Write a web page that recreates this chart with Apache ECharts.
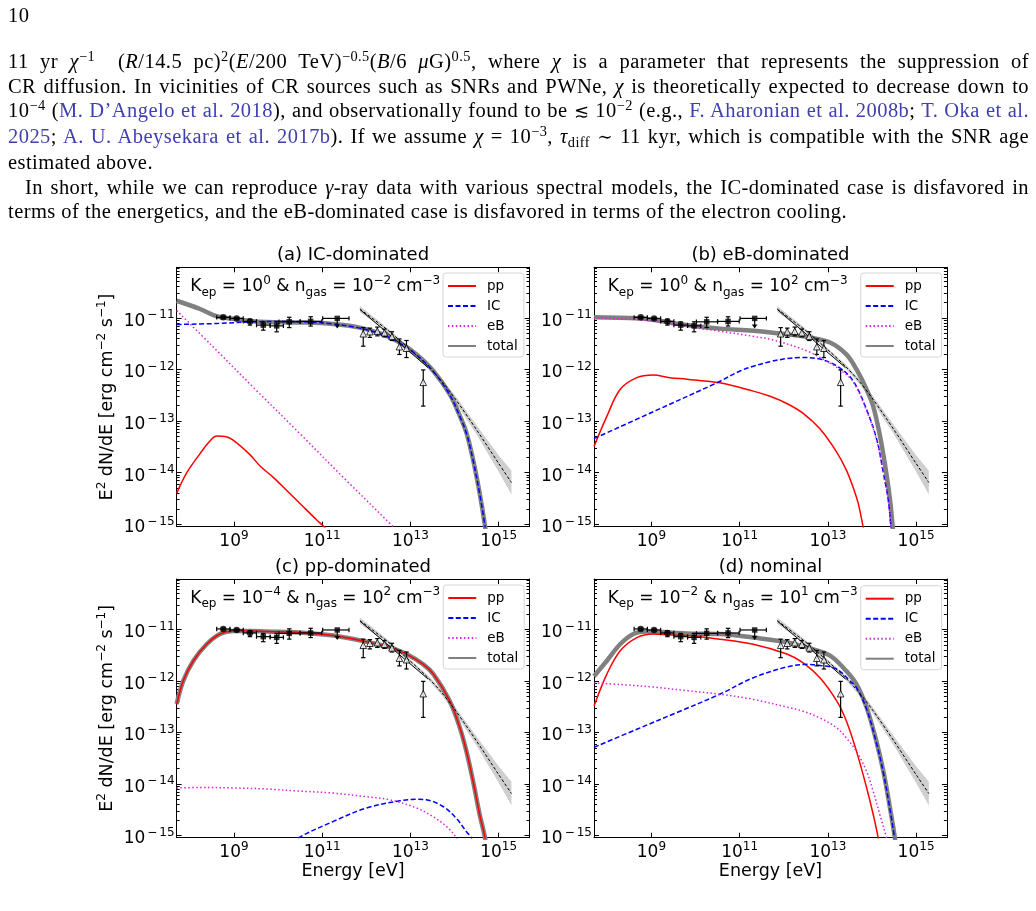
<!DOCTYPE html>
<html>
<head>
<meta charset="utf-8">
<title>SED panels</title>
<script src="https://cdn.jsdelivr.net/npm/echarts@6.0.0/dist/echarts.min.js"></script>
<style>
  body { margin: 0; background: #fff; }
  #chart { position: absolute; left: 0; top: 0; width: 1036px; height: 911px; }
  .page { position: absolute; left: 8px; font-family: 'Liberation Serif', 'DejaVu Serif', serif;
          font-size: 20.5px; letter-spacing: 0.45px; line-height: 24.7px; color: #000; z-index: 2; }
  #pn { top: 3px; }
  #text { top: 49px; width: 1021px; }
  #text div { white-space: nowrap; }
  .j { text-align: justify; text-align-last: justify; }
  .ind { text-indent: 17px; }
  sup, sub { font-size: 0.7em; line-height: 0; }
  sup { vertical-align: 0.5em; }
  sub { vertical-align: -0.25em; }
  .ref { color: #3f3fae; }
  .sym { font-family: 'DejaVu Serif', serif; font-size: 0.9em; }
</style>
</head>
<body>
<div id="pn" class="page">10</div>
<div id="text" class="page">
  <div class="j">11 yr <i>χ</i><sup>−1</sup>&nbsp; (<i>R</i>/14.5 pc)<sup>2</sup>(<i>E</i>/200 TeV)<sup>−0.5</sup>(<i>B</i>/6 <i>μ</i>G)<sup>0.5</sup>, where <i>χ</i> is a parameter that represents the suppression of</div>
  <div class="j">CR diffusion. In vicinities of CR sources such as SNRs and PWNe, <i>χ</i> is theoretically expected to decrease down to</div>
  <div class="j">10<sup>−4</sup> (<span class="ref">M. D’Angelo et al. 2018</span>), and observationally found to be <span class="sym">≲</span> 10<sup>−2</sup> (e.g., <span class="ref">F. Aharonian et al. 2008b</span>; <span class="ref">T. Oka et al.</span></div>
  <div class="j"><span class="ref">2025</span>; <span class="ref">A. U. Abeysekara et al. 2017b</span>). If we assume <i>χ</i> = 10<sup>−3</sup>, <i>τ</i><sub>diff</sub> <span class="sym">∼</span> 11 kyr, which is compatible with the SNR age</div>
  <div>estimated above.</div>
  <div class="j ind">In short, while we can reproduce <i>γ</i>-ray data with various spectral models, the IC-dominated case is disfavored in</div>
  <div>terms of the energetics, and the eB-dominated case is disfavored in terms of the electron cooling.</div>
</div>
<div id="chart"></div>
<script>
// all curve values are log10(E [eV]), log10(E^2 dN/dE [erg cm^-2 s^-1])
const p10 = v => Math.pow(10, v)
const toXY = arr => arr.map(([e, f]) => [p10(e), p10(f)])

const xMin = 5e7, xMax = 5e15
const yMin = 9e-16, yMax = 9.5e-11
const xTickVals = [1e9, 1e11, 1e13, 1e15]
const yTickVals = [1e-15, 1e-14, 1e-13, 1e-12, 1e-11]
const yMinorSubs = [2, 3, 4, 5, 6, 7, 8, 9]
const yMinorDecades = [-16, -15, -14, -13, -12, -11]

const panelTitles = ['(a) IC-dominated', '(b) eB-dominated', '(c) pp-dominated', '(d) nominal']
const panelKep = ['0', '0', '−4', '−2']
const panelNgas = ['−2', '2', '2', '1']
const legendNames = ['pp', 'IC', 'eB', 'total']

// (a) IC-dominated
const aPP = [[7.70,-14.40],[7.93,-14.0],[8.23,-13.63],[8.46,-13.38],[8.61,-13.29],[8.80,-13.30],[8.98,-13.37],[9.36,-13.65],[9.59,-13.87],[9.89,-14.09],[10.19,-14.34],[10.49,-14.59],[10.87,-14.91],[11.02,-15.03],[11.2,-15.2]]
const aIC = [[7.70,-11.13],[8.61,-11.11],[9.36,-11.08],[10.12,-11.07],[10.87,-11.09],[11.25,-11.12],[11.85,-11.2],[12.38,-11.33],[12.76,-11.49],[13.14,-11.72],[13.52,-12.04],[13.89,-12.49],[14.12,-12.91],[14.27,-13.24],[14.42,-13.76],[14.57,-14.41],[14.69,-15.04],[14.76,-15.5]]
const aEB = [[7.70,-10.86],[8.5,-11.54],[9.5,-12.40],[10.5,-13.25],[11.5,-14.11],[12.61,-15.05],[13.0,-15.4]]
const aTotal = [[7.70,-10.67],[8.23,-10.83],[8.61,-10.97],[8.98,-11.02],[9.36,-11.06],[9.74,-11.08],[10.49,-11.09],[11.25,-11.12],[11.85,-11.19],[12.38,-11.32],[12.76,-11.48],[13.14,-11.71],[13.52,-12.03],[13.89,-12.48],[14.12,-12.9],[14.27,-13.23],[14.42,-13.75],[14.57,-14.40],[14.69,-15.03],[14.76,-15.5]]

// (b) eB-dominated
const bPP = [[7.70,-13.49],[7.99,-12.91],[8.29,-12.39],[8.67,-12.16],[9.04,-12.11],[9.42,-12.16],[9.80,-12.19],[10.55,-12.26],[11.31,-12.42],[11.69,-12.52],[12.07,-12.66],[12.44,-12.85],[12.82,-13.15],[13.20,-13.6],[13.42,-13.95],[13.58,-14.3],[13.69,-14.6],[13.80,-15.05],[13.9,-15.5]]
const bIC = [[7.70,-13.34],[9.04,-12.82],[10.48,-12.26],[11.01,-12.03],[11.31,-11.94],[11.69,-11.85],[12.07,-11.79],[12.37,-11.77],[12.82,-11.80],[13.27,-11.97],[13.58,-12.23],[13.88,-12.78],[14.11,-13.36],[14.26,-14.01],[14.37,-14.53],[14.43,-15.05],[14.48,-15.5]]
const bEB = [[7.70,-11.0],[9.04,-11.06],[9.80,-11.17],[10.55,-11.26],[11.31,-11.36],[11.76,-11.43],[12.52,-11.64],[12.97,-11.84],[13.27,-12.0],[13.58,-12.25],[13.88,-12.8],[14.11,-13.38],[14.26,-14.03],[14.37,-14.55],[14.43,-15.05],[14.48,-15.5]]
const bTotal = [[7.70,-10.99],[8.67,-11.01],[9.04,-11.04],[9.42,-11.09],[9.80,-11.14],[10.55,-11.21],[11.31,-11.25],[12.07,-11.32],[12.59,-11.38],[13.05,-11.48],[13.42,-11.71],[13.65,-12.0],[13.88,-12.39],[14.03,-12.72],[14.18,-13.28],[14.33,-14.03],[14.42,-14.6],[14.47,-15.05],[14.52,-15.5]]

// (c) pp-dominated
const cPP = [[7.70,-12.46],[7.85,-12.0],[8.08,-11.61],[8.38,-11.29],[8.68,-11.09],[8.98,-11.03],[9.36,-11.03],[9.74,-11.04],[10.49,-11.06],[11.25,-11.12],[12.0,-11.24],[12.53,-11.35],[12.91,-11.48],[13.29,-11.68],[13.52,-11.87],[13.89,-12.39],[14.12,-12.91],[14.27,-13.37],[14.42,-13.95],[14.57,-14.60],[14.69,-15.05],[14.75,-15.5]]
const cIC = [[10.2,-15.25],[10.46,-15.05],[11.25,-14.73],[12.0,-14.47],[12.76,-14.33],[13.14,-14.30],[13.36,-14.31],[13.74,-14.44],[14.04,-14.67],[14.27,-14.93],[14.38,-15.05],[14.45,-15.3]]
const cEB = [[7.70,-14.08],[8.23,-14.07],[8.98,-14.08],[9.74,-14.10],[10.49,-14.14],[11.25,-14.18],[12.0,-14.25],[12.53,-14.31],[13.14,-14.47],[13.52,-14.64],[13.82,-14.83],[14.04,-15.05],[14.2,-15.4]]
const cTotal = [[7.70,-12.45],[7.85,-12.0],[8.08,-11.61],[8.38,-11.29],[8.68,-11.09],[8.98,-11.03],[9.36,-11.03],[9.74,-11.04],[10.49,-11.06],[11.25,-11.12],[12.0,-11.24],[12.53,-11.35],[12.91,-11.48],[13.29,-11.68],[13.52,-11.87],[13.89,-12.39],[14.12,-12.91],[14.27,-13.37],[14.42,-13.95],[14.57,-14.60],[14.69,-15.05],[14.75,-15.5]]

// (d) nominal
const dPP = [[7.70,-12.49],[7.99,-11.87],[8.29,-11.42],[8.67,-11.16],[9.04,-11.09],[9.42,-11.11],[9.80,-11.12],[10.55,-11.19],[11.31,-11.29],[12.07,-11.48],[12.44,-11.65],[12.82,-11.94],[13.20,-12.39],[13.42,-12.78],[13.65,-13.37],[13.88,-14.08],[14.03,-14.60],[14.14,-15.05],[14.22,-15.5]]
const dIC = [[7.70,-13.29],[8.67,-12.94],[9.62,-12.60],[10.55,-12.26],[11.31,-11.94],[12.07,-11.73],[12.52,-11.68],[12.82,-11.70],[13.20,-11.77],[13.50,-12.0],[13.65,-12.13],[13.88,-12.55],[14.10,-13.2],[14.26,-13.79],[14.41,-14.5],[14.51,-15.05],[14.57,-15.5]]
const dEB = [[7.70,-12.04],[8.29,-12.07],[9.04,-12.12],[9.80,-12.19],[10.55,-12.26],[11.31,-12.36],[12.07,-12.51],[12.44,-12.59],[12.82,-12.72],[13.20,-12.91],[13.42,-13.11],[13.65,-13.37],[13.88,-13.76],[14.03,-14.15],[14.18,-14.60],[14.33,-15.05],[14.45,-15.5]]
const dTotal = [[7.70,-11.91],[7.99,-11.61],[8.29,-11.29],[8.59,-11.09],[8.89,-11.04],[9.42,-11.06],[9.80,-11.08],[10.55,-11.09],[11.31,-11.16],[12.07,-11.25],[12.59,-11.37],[13.05,-11.51],[13.42,-11.81],[13.65,-12.07],[13.88,-12.52],[14.10,-13.17],[14.26,-13.76],[14.41,-14.47],[14.52,-15.05],[14.58,-15.5]]

// observed points (same in every panel)
const fermiLogE = [8.757, 9.061, 9.363, 9.664, 9.968, 10.253, 10.738]
const fermiLogF = [-10.992, -11.012, -11.07, -11.142, -11.156, -11.078, -11.07]
const fermiLogElo = [8.608, 8.91, 9.21, 9.51, 9.82, 10.02, 10.5]
const fermiLogEhi = [8.909, 9.21, 9.51, 9.82, 10.12, 10.5, 10.99]
const fermiLogFlo = [-11.01, -11.03, -11.142, -11.24, -11.272, -11.19, -11.16]
const fermiLogFhi = [-10.975, -10.995, -11.025, -11.078, -11.078, -10.99, -10.98]
const fermiShape = ['circle', 'circle', 'circle', 'rect', 'rect', 'rect', 'rect']

const ulLogE = [11.341], ulLogF = [-11.012], ulLogElo = [11.01], ulLogEhi = [11.607], ulLogTip = [-11.206]

const triLogE = [11.93, 12.08, 12.25, 12.41, 12.58, 12.75, 12.91, 13.29]
const triLogF = [-11.31, -11.27, -11.26, -11.29, -11.36, -11.56, -11.59, -12.25]
const triLogFlo = [-11.55, -11.38, -11.35, -11.37, -11.44, -11.71, -11.77, -12.71]
const triLogFhi = [-11.19, -11.2, -11.18, -11.22, -11.27, -11.41, -11.44, -12.01]

// power-law fits and their band
const fitSolid = [[11.855,-10.84],[13.40,-11.965]]
const fitDashed = [[11.855,-10.83],[12.5,-11.25],[13.0,-11.62],[13.4,-11.94],[13.7,-12.22],[14.0,-12.55],[14.5,-13.17],[15.0,-13.82],[15.29,-14.19]]
const bandLogE = [11.855, 12.5, 13.0, 13.4, 13.7, 14.0, 14.5, 15.0, 15.29]
const bandLogHi = [-10.77, -11.21, -11.59, -11.9, -12.17, -12.49, -13.08, -13.66, -13.96]
const bandLogLo = [-10.89, -11.29, -11.65, -11.98, -12.27, -12.61, -13.26, -13.98, -14.42]

const models = [
  [aPP, aIC, aEB, aTotal],
  [bPP, bIC, bEB, bTotal],
  [cPP, cIC, cEB, cTotal],
  [dPP, dIC, dEB, dTotal]
]

const grids = [
  { left: 176.6, top: 267.3, width: 352.9, height: 259.4 },
  { left: 594, top: 267.3, width: 352.9, height: 259.4 },
  { left: 176.6, top: 579, width: 352.9, height: 258.7 },
  { left: 594, top: 579, width: 352.9, height: 258.7 }
]
const legendPos = [[443, 273], [860.7, 273], [443.3, 585], [860.7, 585.7]]
const titleY = [255, 255, 567.5, 567.5]

const FONT = 'DejaVu Sans'
const yMinorVals = []
yMinorDecades.forEach(d => yMinorSubs.forEach(s => {
  const v = s * p10(d)
  if (v >= yMin && v <= yMax) yMinorVals.push(v)
}))

const richTick = {
  b: { fontFamily: FONT, fontSize: 17, lineHeight: 24, color: '#000', verticalAlign: 'middle' },
  s: { fontFamily: FONT, fontSize: 12, lineHeight: 10, color: '#000', verticalAlign: 'top' },
  m: { fontFamily: FONT, fontSize: 12, lineHeight: 10, color: '#000', verticalAlign: 'top', padding: [0, 2, 0, 2] }
}
const expLabel = v => {
  const ex = Math.round(Math.log10(v))
  return '{b|10}' + (ex < 0 ? '{m|−}{s|' + (-ex) + '}' : '{s|' + ex + '}')
}

const black = { color: '#000', width: 1 }
const xAxis = []
const yAxis = []
grids.forEach((g, i) => {
  const xb = { type: 'log', logBase: 10, min: xMin, max: xMax, gridIndex: i, splitLine: { show: false } }
  xAxis.push(Object.assign({}, xb, {
    position: 'bottom',
    axisLine: { show: true, onZero: false, lineStyle: black },
    axisTick: { inside: true, length: 5, customValues: xTickVals, lineStyle: black },
    axisLabel: { customValues: xTickVals, formatter: expLabel, rich: richTick, margin: 3 },
    name: i >= 2 ? 'Energy [eV]' : '',
    nameLocation: 'middle', nameGap: 25,
    nameTextStyle: { fontFamily: FONT, fontSize: 17.5, color: '#000' }
  }))
  xAxis.push(Object.assign({}, xb, {
    position: 'top',
    axisLine: { show: true, onZero: false, lineStyle: black },
    axisTick: { inside: true, length: 5, customValues: xTickVals, lineStyle: black },
    axisLabel: { show: false }
  }))

  const yb = { type: 'log', logBase: 10, min: yMin, max: yMax, gridIndex: i, splitLine: { show: false } }
  yAxis.push(Object.assign({}, yb, {
    position: 'left',
    axisLine: { show: true, onZero: false, lineStyle: black },
    axisTick: { inside: true, length: 5, customValues: yTickVals, lineStyle: black },
    axisLabel: { customValues: yTickVals, formatter: expLabel, rich: richTick, margin: 2, padding: [7, 0, 0, 0] },
    name: i % 2 === 0 ? 'E{s|2} dN/dE [erg cm{s|−2} s{s|−1}]' : '',
    nameLocation: 'middle', nameGap: 48, nameRotate: 90,
    nameTextStyle: {
      fontFamily: FONT, fontSize: 17.5, lineHeight: 24, color: '#000',
      rich: { s: { fontFamily: FONT, fontSize: 12, lineHeight: 10, color: '#000', verticalAlign: 'top' } }
    }
  }))
  yAxis.push(Object.assign({}, yb, {
    position: 'left',
    axisLine: { show: false },
    axisTick: { inside: true, length: 3, customValues: yMinorVals, lineStyle: black },
    axisLabel: { show: false }
  }))
  yAxis.push(Object.assign({}, yb, {
    position: 'right',
    axisLine: { show: true, onZero: false, lineStyle: black },
    axisTick: { inside: true, length: 5, customValues: yTickVals, lineStyle: black },
    axisLabel: { show: false }
  }))
  yAxis.push(Object.assign({}, yb, {
    position: 'right',
    axisLine: { show: false },
    axisTick: { inside: true, length: 3, customValues: yMinorVals, lineStyle: black },
    axisLabel: { show: false }
  }))
})

// error bars for Fermi points and triangles: [E, F, Elo, Ehi, Flo, Fhi]
const errData = fermiLogE.map((e, k) => [p10(e), p10(fermiLogF[k]), p10(fermiLogElo[k]), p10(fermiLogEhi[k]), p10(fermiLogFlo[k]), p10(fermiLogFhi[k])])
  .concat(ulLogE.map((e, k) => [p10(e), p10(ulLogF[k]), p10(ulLogElo[k]), p10(ulLogEhi[k]), p10(ulLogF[k]), p10(ulLogF[k])]))
  .concat(triLogE.map((e, k) => [p10(e), p10(triLogF[k]), p10(e), p10(e), p10(triLogFlo[k]), p10(triLogFhi[k])]))

function renderErr (params, api) {
  const e = api.value(0), f = api.value(1)
  const xl = api.coord([api.value(2), f]), xh = api.coord([api.value(3), f])
  const yl = api.coord([e, api.value(4)]), yh = api.coord([e, api.value(5)])
  const st = { stroke: '#000', lineWidth: 1.2 }
  const cap = 2.2
  const ch = []
  const seg = (x1, y1, x2, y2) => ch.push({ type: 'line', shape: { x1, y1, x2, y2 }, style: st })
  if (xh[0] - xl[0] > 0.5) {
    seg(xl[0], xl[1], xh[0], xh[1])
    seg(xl[0], xl[1] - cap, xl[0], xl[1] + cap)
    seg(xh[0], xh[1] - cap, xh[0], xh[1] + cap)
  }
  if (yl[1] - yh[1] > 0.5) {
    seg(yl[0], yl[1], yh[0], yh[1])
    seg(yl[0] - cap, yl[1], yl[0] + cap, yl[1])
    seg(yh[0] - cap, yh[1], yh[0] + cap, yh[1])
  }
  return { type: 'group', children: ch }
}

// upper limit arrow: [E, F, Ftip]
const ulData = ulLogE.map((e, k) => [p10(e), p10(ulLogF[k]), p10(ulLogTip[k])])
function renderUL (params, api) {
  const a = api.coord([api.value(0), api.value(1)])
  const b = api.coord([api.value(0), api.value(2)])
  return {
    type: 'group',
    children: [
      { type: 'line', shape: { x1: a[0], y1: a[1], x2: b[0], y2: b[1] - 3 }, style: { stroke: '#000', lineWidth: 1.2 } },
      { type: 'polygon', shape: { points: [[b[0] - 2.8, b[1] - 4], [b[0] + 2.8, b[1] - 4], [b[0], b[1]]] }, style: { fill: '#000' } }
    ]
  }
}

const bandData = bandLogE.map((e, k) => [p10(e), p10(bandLogLo[k]), p10(bandLogHi[k])])
function renderBand (params, api) {
  if (params.dataIndex !== 0) return
  const up = bandLogE.map((e, k) => api.coord([p10(e), p10(bandLogHi[k])]))
  const lo = bandLogE.map((e, k) => api.coord([p10(e), p10(bandLogLo[k])])).reverse()
  return { type: 'polygon', shape: { points: up.concat(lo), smooth: 0 }, style: { fill: '#cfcfcf' } }
}

const series = []
grids.forEach((g, i) => {
  const ax = { xAxisIndex: 2 * i, yAxisIndex: 4 * i }
  const line = (name, data, lineStyle, z) => Object.assign({
    type: 'line', name, data: toXY(data), symbol: 'none', showSymbol: false,
    smooth: 0.35, lineStyle, itemStyle: { color: lineStyle.color }, z, silent: true
  }, ax)
  const [pp, ic, eb, tot] = models[i]
  series.push(Object.assign({ type: 'custom', name: 'band', data: bandData, encode: { x: 0, y: [1, 2] }, renderItem: renderBand, clip: true, z: 1, silent: true }, ax))
  series.push(line('total', tot, { color: '#808080', width: 4.5 }, 2))
  series.push(line('pp', pp, { color: '#ff0000', width: 1.5 }, 3))
  series.push(line('IC', ic, { color: '#0000ff', width: 1.5, type: [5, 2.5] }, 3))
  series.push(line('eB', eb, { color: '#dd22dd', width: 1.5, type: [1.5, 2.4] }, 3))
  series.push(Object.assign({ type: 'line', name: 'fit', data: toXY(fitSolid), symbol: 'none', lineStyle: { color: '#000', width: 1 }, z: 4, silent: true }, ax))
  series.push(Object.assign({ type: 'line', name: 'fit2', data: toXY(fitDashed), symbol: 'none', smooth: 0.3, lineStyle: { color: '#000', width: 1, type: [3, 2] }, z: 4, silent: true }, ax))
  series.push(Object.assign({ type: 'custom', name: 'err', data: errData, encode: { x: 0, y: 1 }, renderItem: renderErr, z: 5, silent: true }, ax))
  series.push(Object.assign({ type: 'custom', name: 'ul', data: ulData, encode: { x: 0, y: 1 }, renderItem: renderUL, z: 5, silent: true }, ax))
  series.push(Object.assign({
    type: 'scatter', name: 'fermi', symbolSize: 6,
    data: fermiLogE.map((e, k) => ({ value: [p10(e), p10(fermiLogF[k])], symbol: fermiShape[k], symbolSize: fermiShape[k] === 'rect' ? 5.5 : 6.5 }))
      .concat(ulLogE.map((e, k) => ({ value: [p10(e), p10(ulLogF[k])], symbol: 'rect', symbolSize: 5.5 }))),
    itemStyle: { color: '#000' }, z: 6, silent: true
  }, ax))
  series.push(Object.assign({
    type: 'scatter', name: 'tri', symbol: 'triangle', symbolSize: 6.5,
    data: triLogE.map((e, k) => [p10(e), p10(triLogF[k])]),
    itemStyle: { color: '#fff', borderColor: '#000', borderWidth: 1 }, z: 6, silent: true
  }, ax))
})

const legend = grids.map((g, i) => ({
  orient: 'vertical', left: legendPos[i][0], top: legendPos[i][1],
  data: legendNames, selectedMode: false,
  itemWidth: 28, itemHeight: 14, itemGap: 6,
  padding: [6, 6, 4, 4],
  borderColor: '#d6d6d6', borderWidth: 1, borderRadius: 3, backgroundColor: '#fff',
  itemStyle: { color: 'rgba(0,0,0,0)', borderColor: 'rgba(0,0,0,0)', borderWidth: 0 },
  textStyle: { fontFamily: FONT, fontSize: 13.5, color: '#000', padding: [0, 0, 0, 6] }
}))

const annRich = {
  sub: { fontFamily: FONT, fontSize: 12, lineHeight: 10, verticalAlign: 'bottom', fill: '#000' },
  sup: { fontFamily: FONT, fontSize: 12, lineHeight: 10, verticalAlign: 'top', fill: '#000' }
}
const graphic = []
grids.forEach((g, i) => {
  graphic.push({
    type: 'text', x: g.left + g.width / 2, y: titleY[i], silent: true,
    style: { text: panelTitles[i], fontFamily: FONT, fontSize: 18, fill: '#000', align: 'center', verticalAlign: 'middle' }
  })
  graphic.push({
    type: 'text', x: g.left + 13.7, y: g.top + 19.3, silent: true,
    style: {
      text: 'K{sub|ep} = 10{sup|' + panelKep[i] + '} & n{sub|gas} = 10{sup|' + panelNgas[i] + '} cm{sup|−3}',
      fontFamily: FONT, fontSize: 17, lineHeight: 24, fill: '#000', align: 'left', verticalAlign: 'middle', rich: annRich
    }
  })
})

const chartDom = document.getElementById('chart')
const myChart = echarts.init(chartDom)
const option = {
  animation: false,
  backgroundColor: 'rgba(0,0,0,0)',
  grid: grids.map(g => Object.assign({ containLabel: false, outerBoundsMode: 'none' }, g)),
  xAxis,
  yAxis,
  legend,
  graphic,
  series
}
myChart.setOption(option)
</script>
</body>
</html>
